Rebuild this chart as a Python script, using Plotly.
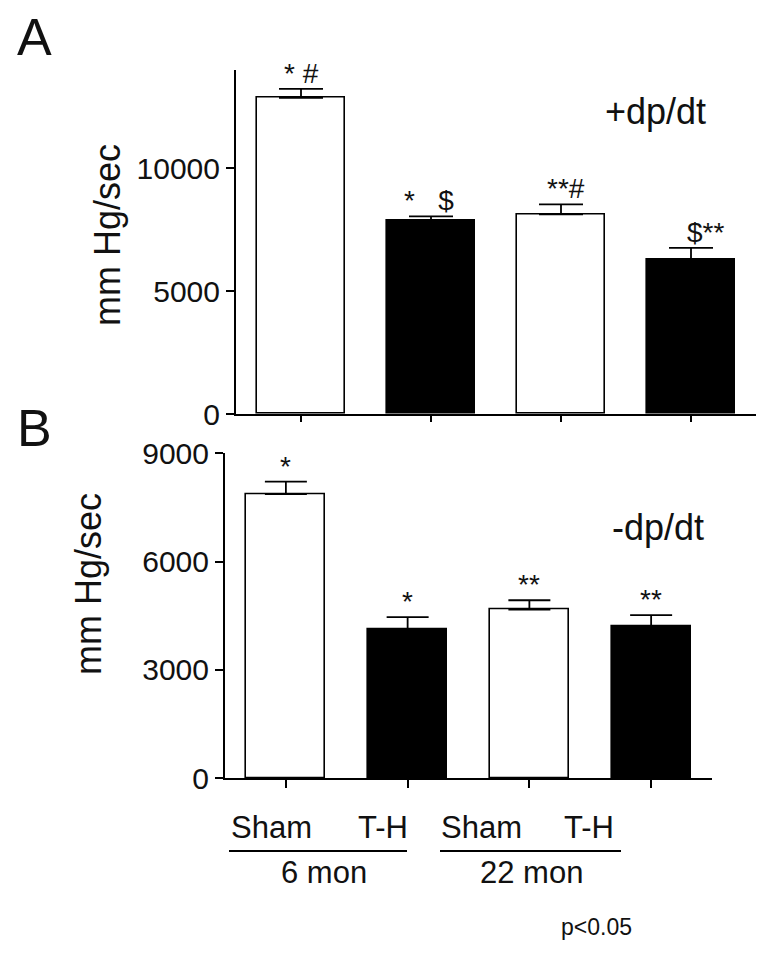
import plotly.graph_objects as go

# data
groups = ["Sham", "T-H", "Sham", "T-H"]
ages = ["6 mon", "6 mon", "22 mon", "22 mon"]
cats = ["Sham 6 mon", "T-H 6 mon", "Sham 22 mon", "T-H 22 mon"]
bar_colors = ["white", "black", "white", "black"]

plus_mean = [12850, 7850, 8120, 6260]     # +dp/dt
plus_sem = [370, 180, 400, 490]
plus_marks = ["*\u00a0#", "*\u00a0\u00a0\u00a0$", "**#", "$**"]
plus_shift = [0, -2, 5, 14]

minus_mean = [7870, 4140, 4670, 4200]     # -dp/dt
minus_sem = [345, 325, 260, 320]
minus_marks = ["*", "*", "**", "**"]

W, H = 772, 959
OFF = 8   # page body margin shifts the figure by 8px
FONT = "Liberation Sans, Arial, sans-serif"
INK = "#111111"


def px(x):
    return (x - OFF) / W


def py(y):
    return 1 - (y - OFF) / H


fig = go.Figure()

fig.add_trace(go.Bar(
    x=cats, y=plus_mean, xaxis="x", yaxis="y", width=0.68,
    marker=dict(color=bar_colors, line=dict(color="black", width=1.6)),
    error_y=dict(type="data", array=plus_sem, arrayminus=[0] * 4, symmetric=False,
                 color="black", thickness=1.8, width=22),
    showlegend=False, hoverinfo="y"))

fig.add_trace(go.Bar(
    x=cats, y=minus_mean, xaxis="x2", yaxis="y2", width=0.65,
    marker=dict(color=bar_colors, line=dict(color="black", width=1.6)),
    error_y=dict(type="data", array=minus_sem, arrayminus=[0] * 4, symmetric=False,
                 color="black", thickness=1.8, width=21),
    showlegend=False, hoverinfo="y"))

axis_common = dict(showline=True, linecolor="black", linewidth=2, ticks="outside",
                   tickcolor="black", tickwidth=2, showgrid=False, zeroline=False,
                   automargin=False)
yfont = dict(family=FONT, size=30, color=INK)

fig.update_layout(
    template="none",
    width=W, height=H, paper_bgcolor="white", plot_bgcolor="white",
    margin=dict(l=0, r=0, t=0, b=0, pad=0), bargap=0, showlegend=False,
    xaxis=dict(domain=[px(236), px(756)], anchor="y", range=[-0.5, 3.5],
               showticklabels=False, ticklen=6, **axis_common),
    yaxis=dict(domain=[py(414), py(69.6)], anchor="x", range=[0, 14000],
               tickvals=[0, 5000, 10000], ticktext=["0", "5000", "10000"],
               ticklen=8, tickfont=yfont, **axis_common),
    xaxis2=dict(domain=[px(225), px(712)], anchor="y2", range=[-0.5, 3.5],
                showticklabels=False, ticklen=8, **axis_common),
    yaxis2=dict(domain=[py(778.3), py(453.3)], anchor="x2", range=[0, 9000],
                tickvals=[0, 3000, 6000, 9000], ticktext=["0", "3000", "6000", "9000"],
                ticklen=8, tickfont=yfont, **axis_common),
)

ann = []
# significance marks
for i in range(4):
    ann.append(dict(x=cats[i], y=plus_mean[i] + plus_sem[i], xref="x", yref="y",
                    text=plus_marks[i], showarrow=False, yanchor="bottom", xshift=plus_shift[i],
                    yshift=-2, font=dict(family=FONT, size=28, color=INK)))
    ann.append(dict(x=cats[i], y=minus_mean[i] + minus_sem[i], xref="x2", yref="y2",
                    text=minus_marks[i], showarrow=False, yanchor="bottom",
                    yshift=-2, font=dict(family=FONT, size=28, color=INK)))

def txt(x, y, s, size, angle=0):
    ann.append(dict(x=px(x), y=py(y), xref="paper", yref="paper", text=s, showarrow=False,
                    xanchor="center", yanchor="middle", textangle=angle,
                    font=dict(family=FONT, size=size, color=INK)))

txt(34, 37, "A", 52)
txt(34, 428, "B", 52)
txt(107, 235, "mm Hg/sec", 36, -90)
txt(88, 584, "mm Hg/sec", 36, -90)
txt(655, 112, "+dp/dt", 36)
txt(658, 527, "-dp/dt", 36)

# group labels under panel B
label_x = [271, 382.5, 481.7, 589]
for g, x in zip(groups, label_x):
    txt(x, 827, g, 31)
age_x = {"6 mon": 324, "22 mon": 531.5}
for a in dict.fromkeys(ages):
    txt(age_x[a], 872, a, 31)
txt(596, 927, "p<0.05", 23)

fig.update_layout(annotations=ann)
fig.add_shape(type="line", xref="paper", yref="paper", x0=px(229), x1=px(407), y0=py(851), y1=py(851),
              line=dict(color="black", width=2))
fig.add_shape(type="line", xref="paper", yref="paper", x0=px(440), x1=px(621), y0=py(851), y1=py(851),
              line=dict(color="black", width=2))

fig.write_html("out.html")
